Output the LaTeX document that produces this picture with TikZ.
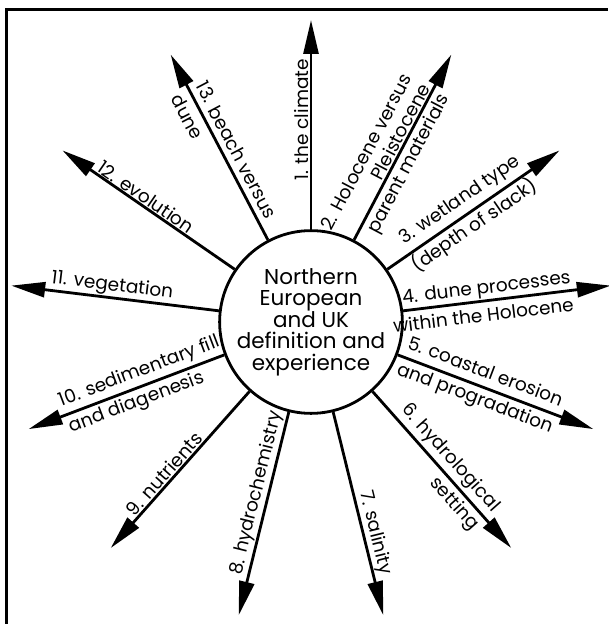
\documentclass[tikz,border=0pt]{standalone}
\usepackage{fontspec}
\setmainfont{Poppins}
\usetikzlibrary{arrows.meta, positioning, calc}

\begin{document}
\begin{tikzpicture}[x=1pt, y=1pt,
  spoke/.style={line width=2.8pt, -{Triangle[length=34pt, width=15pt]}},
  topic/.style={font=\fontsize{18.5}{21}\selectfont, inner sep=2pt}]
  \useasboundingbox (-311,-302) rectangle (297,322);
  \draw[line width=3pt] (-304,-302) |- (297,312);

  \node[draw, circle, line width=2.8pt, minimum size=164pt, inner sep=0pt, align=center, font=\fontsize{21.5}{21.5}\selectfont] (hub) at (0,0) {Northern\\European\\and UK\\definition and\\experience};

  \coordinate (t1) at (90:302);
  \coordinate (t2) at (62.31:302);
  \coordinate (t3) at (34.62:302);
  \coordinate (t4) at (6.92:302);
  \coordinate (t5) at (-20.77:302);
  \coordinate (t6) at (-48.46:302);
  \coordinate (t7) at (-76.15:302);
  \coordinate (t8) at (-103.85:302);
  \coordinate (t9) at (-131.54:302);
  \coordinate (t10) at (-159.23:302);
  \coordinate (t11) at (173.08:302);
  \coordinate (t12) at (145.38:302);
  \coordinate (t13) at (117.69:302);

  \draw[spoke] (hub) -- (t1);
  \draw[spoke] (hub) -- (t2);
  \draw[spoke] (hub) -- (t3);
  \draw[spoke] (hub) -- (t4);
  \draw[spoke] (hub) -- (t5);
  \draw[spoke] (hub) -- (t6);
  \draw[spoke] (hub) -- (t7);
  \draw[spoke] (hub) -- (t8);
  \draw[spoke] (hub) -- (t9);
  \draw[spoke] (hub) -- (t10);
  \draw[spoke] (hub) -- (t11);
  \draw[spoke] (hub) -- (t12);
  \draw[spoke] (hub) -- (t13);

  % labels sit at the outer end of each spoke
  \node[topic, rotate=90, anchor=south east] (l1) at (90:265) {1. the climate};
  \node[topic, rotate=62.31, anchor=east, align=right] (l2) at ($(62.31:265)+(152.31:7)$) {2. Holocene versus\\Pleistocene\\parent materials};
  \node[topic, rotate=34.62, anchor=east, align=right] (l3) at (34.62:265) {3. wetland type\\[7pt](depth of slack)};
  \node[topic, rotate=6.92, anchor=east, align=right] (l4) at (6.92:265) {4. dune processes\\[7pt]within the Holocene};
  \node[topic, rotate=-20.77, anchor=east, align=right] (l5) at (-20.77:265) {5. coastal erosion\\[7pt]and progradation};
  \node[topic, rotate=-48.46, anchor=east, align=right] (l6) at (-48.46:265) {6. hydrological\\[7pt]setting};
  \node[topic, rotate=-76.15, anchor=south east] (l7) at (-76.15:265) {7. salinity};
  \node[topic, rotate=76.15, anchor=south west] (l8) at (-103.85:265) {8. hydrochemistry};
  \node[topic, rotate=48.46, anchor=south west] (l9) at (-131.54:265) {9. nutrients};
  \node[topic, rotate=20.77, anchor=west, align=left] (l10) at (-159.23:265) {10. sedimentary fill\\[7pt]and diagenesis};
  \node[topic, rotate=-6.92, anchor=south west] (l11) at (173.08:265) {11. vegetation};
  \node[topic, rotate=-34.62, anchor=south west] (l12) at (145.38:265) {12. evolution};
  \node[topic, rotate=-62.31, anchor=west, align=left] (l13) at (117.69:265) {13. beach versus\\[7pt]dune};
\end{tikzpicture}
\end{document}
